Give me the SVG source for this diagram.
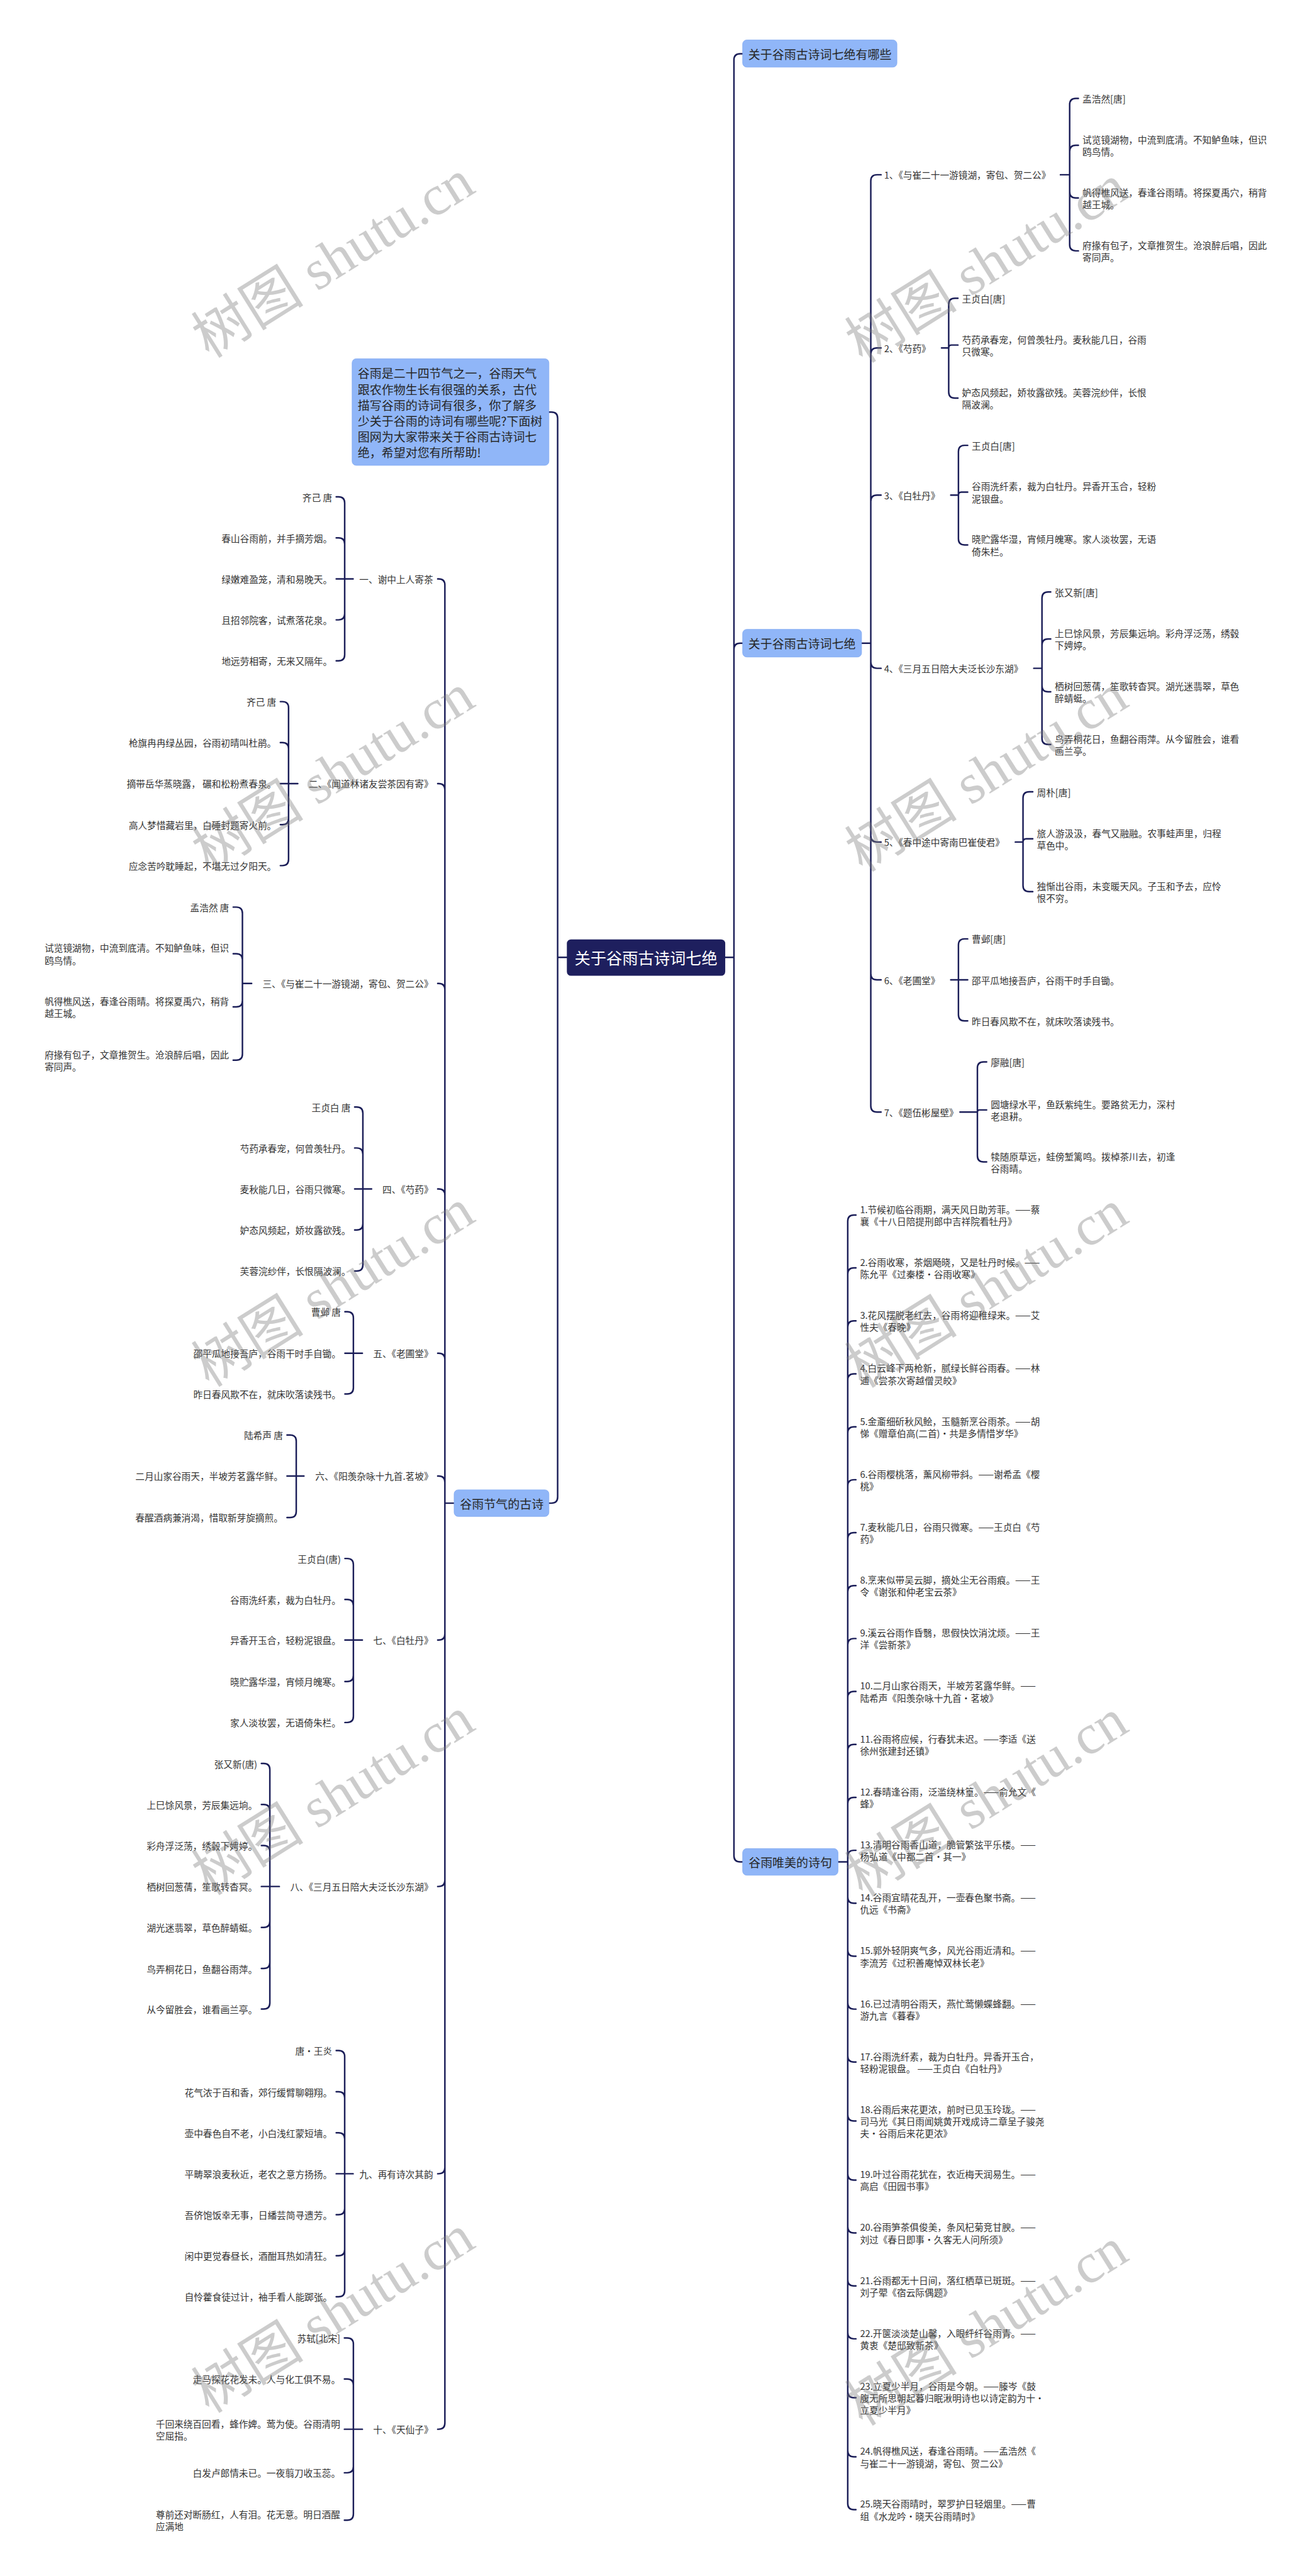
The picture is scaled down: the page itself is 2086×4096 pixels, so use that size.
<svg xmlns="http://www.w3.org/2000/svg" width="2086" height="4096" viewBox="0 0 2086 4096">
<style>
.ln{fill:none;stroke:#1b1e58;stroke-width:3;stroke-linecap:round;stroke-linejoin:round}
.t{font-family:"Noto Sans CJK SC","Noto Sans",sans-serif;font-size:18px;fill:#333;dominant-baseline:central}
.e{text-anchor:end}
.l1{font-size:23.3px;fill:#262626}
.box{fill:#90b6f8;stroke:#80a9f2;stroke-width:1}
.root{fill:#1e1f5e}
.rt{font-size:31px;fill:#fff;text-anchor:middle}
.wm{font-family:"Liberation Serif","Noto Sans CJK SC",serif;font-size:110px;fill:#7a7a7a;opacity:.38;text-anchor:middle;dominant-baseline:central}
</style>
<rect width="2086" height="4096" fill="#fff"/>
<g transform="scale(0.8149)">
<g id="connectors" class="ln">
<path d="M1415,1868H1432M1432,1868V117Q1432,105 1444,105H1449M1432,1868V1267Q1432,1255 1444,1255H1449M1432,1868V3621Q1432,3633 1444,3633H1449"/>
<path d="M1106,1868H1088M1088,1868V816Q1088,804 1076,804H1071M1088,1868V2921Q1088,2933 1076,2933H1071"/>
<path d="M1681,1255H1699M1699,1255V353Q1699,341 1711,341H1719M1699,1255V691Q1699,679 1711,679H1719M1699,1255V978Q1699,966 1711,966H1719M1699,1255V1292Q1699,1304 1711,1304H1719M1699,1255V1631Q1699,1643 1711,1643H1719M1699,1255V1900Q1699,1912 1711,1912H1719M1699,1255V2158Q1699,2170 1711,2170H1719"/>
<path d="M2069,341H2087M2087,341V204Q2087,192 2099,192H2104M2087,341V295.5Q2087,283.5 2099,283.5H2104M2087,341V374.25Q2087,386.25 2099,386.25H2104M2087,341V477.5Q2087,489.5 2099,489.5H2104"/>
<path d="M1837,679H1851M1851,679V594Q1851,582 1863,582H1869M1851,679Q1851,673.25 1856.75,673.25H1869M1851,679V764.75Q1851,776.75 1863,776.75H1869"/>
<path d="M1855,966H1870M1870,966V881Q1870,869 1882,869H1888M1870,966Q1870,960.25 1875.75,960.25H1888M1870,966V1051.25Q1870,1063.25 1882,1063.25H1888"/>
<path d="M2017,1304H2033M2033,1304V1167Q2033,1155 2045,1155H2050M2033,1304V1258.75Q2033,1246.75 2045,1246.75H2050M2033,1304V1337.75Q2033,1349.75 2045,1349.75H2050M2033,1304V1440.75Q2033,1452.75 2045,1452.75H2050"/>
<path d="M1981,1643H1996M1996,1643V1557Q1996,1545 2008,1545H2015M1996,1643Q1996,1636.75 2002.25,1636.75H2015M1996,1643V1727.75Q1996,1739.75 2008,1739.75H2015"/>
<path d="M1855,1912H1870M1870,1912V1844Q1870,1832 1882,1832H1888M1870,1912H1888M1870,1912V1980Q1870,1992 1882,1992H1888"/>
<path d="M1873,2170H1907M1907,2170V2084Q1907,2072 1919,2072H1925M1907,2170Q1907,2165.75 1911.25,2165.75H1925M1907,2170V2255.25Q1907,2267.25 1919,2267.25H1925"/>
<path d="M1635,3633H1654M1654,3633V2382.8Q1654,2370.8 1666,2370.8H1670M1654,3633V2486Q1654,2474 1666,2474H1670M1654,3633V2589.4Q1654,2577.4 1666,2577.4H1670M1654,3633V2692.7Q1654,2680.7 1666,2680.7H1670M1654,3633V2796Q1654,2784 1666,2784H1670M1654,3633V2899.3Q1654,2887.3 1666,2887.3H1670M1654,3633V3002.6Q1654,2990.6 1666,2990.6H1670M1654,3633V3105.9Q1654,3093.9 1666,3093.9H1670M1654,3633V3209.2Q1654,3197.2 1666,3197.2H1670M1654,3633V3312.5Q1654,3300.5 1666,3300.5H1670M1654,3633V3415.8Q1654,3403.8 1666,3403.8H1670M1654,3633V3519.1Q1654,3507.1 1666,3507.1H1670M1654,3633V3622.4Q1654,3610.4 1666,3610.4H1670M1654,3633V3701.7Q1654,3713.7 1666,3713.7H1670M1654,3633V3805Q1654,3817 1666,3817H1670M1654,3633V3908.3Q1654,3920.3 1666,3920.3H1670M1654,3633V4011.6Q1654,4023.6 1666,4023.6H1670M1654,3633V4126.6Q1654,4138.6 1666,4138.6H1670M1654,3633V4241.8Q1654,4253.8 1666,4253.8H1670M1654,3633V4345Q1654,4357 1666,4357H1670M1654,3633V4448.3Q1654,4460.3 1666,4460.3H1670M1654,3633V4551.6Q1654,4563.6 1666,4563.6H1670M1654,3633V4666.6Q1654,4678.6 1666,4678.6H1670M1654,3633V4781.8Q1654,4793.8 1666,4793.8H1670M1654,3633V4885Q1654,4897 1666,4897H1670"/>
<path d="M886,2933H868M868,2933V1141.5Q868,1129.5 856,1129.5H854M868,2933V1541Q868,1529 856,1529H854M868,2933V1931Q868,1919 856,1919H854M868,2933V2332Q868,2320 856,2320H854M868,2933V2652.5Q868,2640.5 856,2640.5H854M868,2933V2892Q868,2880 856,2880H854M868,2933V3188Q868,3200 856,3200H854M868,2933V3669Q868,3681 856,3681H854M868,2933V4229.5Q868,4241.5 856,4241.5H854M868,2933V4728Q868,4740 856,4740H854"/>
<path d="M689,1129.5H672.5M672.5,1129.5V981.5Q672.5,969.5 660.5,969.5H656M672.5,1129.5V1061.5Q672.5,1049.5 660.5,1049.5H656M672.5,1129.5H656M672.5,1129.5V1197.5Q672.5,1209.5 660.5,1209.5H656M672.5,1129.5V1277.5Q672.5,1289.5 660.5,1289.5H656"/>
<path d="M581,1529H563M563,1529V1381Q563,1369 551,1369H547M563,1529V1461Q563,1449 551,1449H547M563,1529H547M563,1529V1597Q563,1609 551,1609H547M563,1529V1677Q563,1689 551,1689H547"/>
<path d="M491,1919H473M473,1919V1782Q473,1770 461,1770H455M473,1919V1873Q473,1861 461,1861H455M473,1919V1952.75Q473,1964.75 461,1964.75H455M473,1919V2056.75Q473,2068.75 461,2068.75H455"/>
<path d="M725,2320H708M708,2320V2172Q708,2160 696,2160H692M708,2320V2252Q708,2240 696,2240H692M708,2320H692M708,2320V2388Q708,2400 696,2400H692M708,2320V2468Q708,2480 696,2480H692"/>
<path d="M707,2640.5H689.5M689.5,2640.5V2571.5Q689.5,2559.5 677.5,2559.5H673M689.5,2640.5H673M689.5,2640.5V2708Q689.5,2720 677.5,2720H673"/>
<path d="M593,2880H578M578,2880V2812Q578,2800 566,2800H560M578,2880H560M578,2880V2949Q578,2961 566,2961H560"/>
<path d="M707,3200H689.5M689.5,3200V3053Q689.5,3041 677.5,3041H673M689.5,3200V3133Q689.5,3121 677.5,3121H673M689.5,3200H673M689.5,3200V3269Q689.5,3281 677.5,3281H673M689.5,3200V3349Q689.5,3361 677.5,3361H673"/>
<path d="M545,3681H526.5M526.5,3681V3453Q526.5,3441 514.5,3441H510M526.5,3681V3533Q526.5,3521 514.5,3521H510M526.5,3681V3613Q526.5,3601 514.5,3601H510M526.5,3681H510M526.5,3681V3749Q526.5,3761 514.5,3761H510M526.5,3681V3829Q526.5,3841 514.5,3841H510M526.5,3681V3908Q526.5,3920 514.5,3920H510"/>
<path d="M689,4241.5H672.5M672.5,4241.5V4013Q672.5,4001 660.5,4001H656M672.5,4241.5V4093.5Q672.5,4081.5 660.5,4081.5H656M672.5,4241.5V4173.5Q672.5,4161.5 660.5,4161.5H656M672.5,4241.5H656M672.5,4241.5V4309.5Q672.5,4321.5 660.5,4321.5H656M672.5,4241.5V4389.5Q672.5,4401.5 660.5,4401.5H656M672.5,4241.5V4469.5Q672.5,4481.5 660.5,4481.5H656"/>
<path d="M707,4740H689.5M689.5,4740V4574Q689.5,4562 677.5,4562H672M689.5,4740V4654Q689.5,4642 677.5,4642H672M689.5,4740H672M689.5,4740V4813Q689.5,4825 677.5,4825H672M689.5,4740V4905.5Q689.5,4917.5 677.5,4917.5H672"/>
</g>

<g id="root"><rect class="root" x="1106" y="1833" width="309" height="71" rx="8"/><text class="t rt" x="1260.5" y="1868">关于谷雨古诗词七绝</text></g>

<g id="n-intro"><rect class="box" x="687" y="700" width="384" height="208" rx="8"/>
<text class="t l1" x="698" y="727.5">谷雨是二十四节气之一，谷雨天气</text>
<text class="t l1" x="698" y="758.4">跟农作物生长有很强的关系，古代</text>
<text class="t l1" x="698" y="789.3">描写谷雨的诗词有很多，你了解多</text>
<text class="t l1" x="698" y="820.2">少关于谷雨的诗词有哪些呢?下面树</text>
<text class="t l1" x="698" y="851.1">图网为大家带来关于谷雨古诗词七</text>
<text class="t l1" x="698" y="882">绝，希望对您有所帮助!</text></g>

<g id="n-a"><rect class="box" x="1449" y="78" width="301" height="53" rx="8"/><text class="t l1" x="1460" y="105">关于谷雨古诗词七绝有哪些</text></g>
<g id="n-b"><rect class="box" x="1449" y="1228" width="232" height="54" rx="8"/><text class="t l1" x="1460" y="1255">关于谷雨古诗词七绝</text></g>
<g id="n-c"><rect class="box" x="1449" y="3607" width="186" height="52" rx="8"/><text class="t l1" x="1460.5" y="3633">谷雨唯美的诗句</text></g>
<g id="n-d"><rect class="box" x="886" y="2907" width="185" height="52" rx="8"/><text class="t l1" x="897.5" y="2933">谷雨节气的古诗</text></g>

<g id="b1"><text class="t" x="1725" y="341">1、《与崔二十一游镜湖，寄包、贺二公》</text>
<text class="t" x="2112" y="192">孟浩然[唐]</text>
<text class="t" x="2112" y="271.75">试览镜湖物，中流到底清。不知鲈鱼味，但识</text><text class="t" x="2112" y="295.25">鸥鸟情。</text>
<text class="t" x="2112" y="374.5">帆得樵风送，春逢谷雨晴。将探夏禹穴，稍背</text><text class="t" x="2112" y="398">越王城。</text>
<text class="t" x="2112" y="477.75">府掾有包子，文章推贺生。沧浪醉后唱，因此</text><text class="t" x="2112" y="501.25">寄同声。</text></g>
<g id="b2"><text class="t" x="1725" y="679">2、《芍药》</text>
<text class="t" x="1877" y="582">王贞白[唐]</text>
<text class="t" x="1877" y="661.5">芍药承春宠，何曾羡牡丹。麦秋能几日，谷雨</text><text class="t" x="1877" y="685">只微寒。</text>
<text class="t" x="1877" y="765">妒态风频起，娇妆露欲残。芙蓉浣纱伴，长恨</text><text class="t" x="1877" y="788.5">隔波澜。</text></g>
<g id="b3"><text class="t" x="1725" y="966">3、《白牡丹》</text>
<text class="t" x="1896" y="869">王贞白[唐]</text>
<text class="t" x="1896" y="948.5">谷雨洗纤素，裁为白牡丹。异香开玉合，轻粉</text><text class="t" x="1896" y="972">泥银盘。</text>
<text class="t" x="1896" y="1051.5">晓贮露华湿，宵倾月魄寒。家人淡妆罢，无语</text><text class="t" x="1896" y="1075">倚朱栏。</text></g>
<g id="b4"><text class="t" x="1725" y="1304">4、《三月五日陪大夫泛长沙东湖》</text>
<text class="t" x="2058" y="1155">张又新[唐]</text>
<text class="t" x="2058" y="1235">上巳馀风景，芳辰集远垧。彩舟浮泛荡，绣毂</text><text class="t" x="2058" y="1258.5">下娉婷。</text>
<text class="t" x="2058" y="1338">栖树回葱蒨，笙歌转杳冥。湖光迷翡翠，草色</text><text class="t" x="2058" y="1361.5">醉蜻蜓。</text>
<text class="t" x="2058" y="1441">鸟弄桐花日，鱼翻谷雨萍。从今留胜会，谁看</text><text class="t" x="2058" y="1464.5">画兰亭。</text></g>
<g id="b5"><text class="t" x="1725" y="1643">5、《春中途中寄南巴崔使君》</text>
<text class="t" x="2023" y="1545">周朴[唐]</text>
<text class="t" x="2023" y="1625">旅人游汲汲，春气又融融。农事蛙声里，归程</text><text class="t" x="2023" y="1648.5">草色中。</text>
<text class="t" x="2023" y="1728">独惭出谷雨，未变暖天风。子玉和予去，应怜</text><text class="t" x="2023" y="1751.5">恨不穷。</text></g>
<g id="b6"><text class="t" x="1725" y="1912">6、《老圃堂》</text>
<text class="t" x="1896" y="1832">曹邺[唐]</text>
<text class="t" x="1896" y="1912">邵平瓜地接吾庐，谷雨干时手自锄。</text>
<text class="t" x="1896" y="1992">昨日春风欺不在，就床吹落读残书。</text></g>
<g id="b7"><text class="t" x="1725" y="2170">7、《题伍彬屋壁》</text>
<text class="t" x="1933" y="2072">廖融[唐]</text>
<text class="t" x="1933" y="2154">圆塘绿水平，鱼跃紫纯生。要路贫无力，深村</text><text class="t" x="1933" y="2177.5">老退耕。</text>
<text class="t" x="1933" y="2255.5">犊随原草远，蛙傍堑篱鸣。拨棹茶川去，初逢</text><text class="t" x="1933" y="2279">谷雨晴。</text></g>

<g id="c-items">
<g id="c1"><text class="t" x="1678" y="2359">1.节候初临谷雨期，满天风日助芳菲。——蔡</text><text class="t" x="1678" y="2382.5">襄《十八日陪提刑郎中吉祥院看牡丹》</text></g>
<g id="c2"><text class="t" x="1678" y="2462.3">2.谷雨收寒，茶烟飏晓，又是牡丹时候。——</text><text class="t" x="1678" y="2485.8">陈允平《过秦楼·谷雨收寒》</text></g>
<g id="c3"><text class="t" x="1678" y="2565.6">3.花风摆脱老红去，谷雨将迎稚绿来。——艾</text><text class="t" x="1678" y="2589.1">性夫《春晚》</text></g>
<g id="c4"><text class="t" x="1678" y="2668.9">4.白云峰下两枪新，腻绿长鲜谷雨春。——林</text><text class="t" x="1678" y="2692.4">逋《尝茶次寄越僧灵皎》</text></g>
<g id="c5"><text class="t" x="1678" y="2772.2">5.金齑细斫秋风鲙，玉髓新烹谷雨茶。——胡</text><text class="t" x="1678" y="2795.7">悌《赠章伯高(二首)·共是多情惜岁华》</text></g>
<g id="c6"><text class="t" x="1678" y="2875.5">6.谷雨樱桃落，薰风柳带斜。——谢希孟《樱</text><text class="t" x="1678" y="2899">桃》</text></g>
<g id="c7"><text class="t" x="1678" y="2978.8">7.麦秋能几日，谷雨只微寒。——王贞白《芍</text><text class="t" x="1678" y="3002.3">药》</text></g>
<g id="c8"><text class="t" x="1678" y="3082.1">8.烹来似带吴云脚，摘处尘无谷雨痕。——王</text><text class="t" x="1678" y="3105.6">令《谢张和仲老宝云茶》</text></g>
<g id="c9"><text class="t" x="1678" y="3185.4">9.溪云谷雨作昏翳，思假快饮消沈烦。——王</text><text class="t" x="1678" y="3208.9">洋《尝新茶》</text></g>
<g id="c10"><text class="t" x="1678" y="3288.7">10.二月山家谷雨天，半坡芳茗露华鲜。——</text><text class="t" x="1678" y="3312.2">陆希声《阳羡杂咏十九首·茗坡》</text></g>
<g id="c11"><text class="t" x="1678" y="3392">11.谷雨将应候，行春犹未迟。——李适《送</text><text class="t" x="1678" y="3415.5">徐州张建封还镇》</text></g>
<g id="c12"><text class="t" x="1678" y="3495.3">12.春晴逢谷雨，泛滥绕林篁。——俞允文《</text><text class="t" x="1678" y="3518.8">蜂》</text></g>
<g id="c13"><text class="t" x="1678" y="3598.6">13.清明谷雨香山道，脆管繁弦平乐楼。——</text><text class="t" x="1678" y="3622.1">杨弘道《中都二首·其一》</text></g>
<g id="c14"><text class="t" x="1678" y="3701.9">14.谷雨宜晴花乱开，一壶春色聚书斋。——</text><text class="t" x="1678" y="3725.4">仇远《书斋》</text></g>
<g id="c15"><text class="t" x="1678" y="3805.2">15.郭外轻阴爽气多，风光谷雨近清和。——</text><text class="t" x="1678" y="3828.7">李流芳《过积善庵悼双林长老》</text></g>
<g id="c16"><text class="t" x="1678" y="3908.5">16.已过清明谷雨天，燕忙莺懒蝶蜂翻。——</text><text class="t" x="1678" y="3932">游九言《暮春》</text></g>
<g id="c17"><text class="t" x="1678" y="4011.8">17.谷雨洗纤素，裁为白牡丹。异香开玉合，</text><text class="t" x="1678" y="4035.3">轻粉泥银盘。 ——王贞白《白牡丹》</text></g>
<g id="c18"><text class="t" x="1678" y="4115.1">18.谷雨后来花更浓，前时已见玉玲珑。——</text><text class="t" x="1678" y="4138.6">司马光《其日雨闻姚黄开戏成诗二章呈子骏尧</text><text class="t" x="1678" y="4162.1">夫·谷雨后来花更浓》</text></g>
<g id="c19"><text class="t" x="1678" y="4242">19.叶过谷雨花犹在，衣近梅天润易生。——</text><text class="t" x="1678" y="4265.5">高启《田园书事》</text></g>
<g id="c20"><text class="t" x="1678" y="4345.2">20.谷雨笋茶俱俊美，条风杞菊竞甘腴。——</text><text class="t" x="1678" y="4368.7">刘过《春日即事·久客无人问所须》</text></g>
<g id="c21"><text class="t" x="1678" y="4448.5">21.谷雨都无十日间，落红栖草已斑斑。——</text><text class="t" x="1678" y="4472">刘子翚《宿云际偶题》</text></g>
<g id="c22"><text class="t" x="1678" y="4551.8">22.开箧淡淡楚山馨，入眼纤纤谷雨青。——</text><text class="t" x="1678" y="4575.3">黄衷《楚邸致新茶》</text></g>
<g id="c23"><text class="t" x="1678" y="4655.1">23.立夏少半月，谷雨是今朝。——滕岑《鼓</text><text class="t" x="1678" y="4678.6">腹无所思朝起暮归眠湫明诗也以诗定韵为十·</text><text class="t" x="1678" y="4702.1">立夏少半月》</text></g>
<g id="c24"><text class="t" x="1678" y="4782">24.帆得樵风送，春逢谷雨晴。——孟浩然《</text><text class="t" x="1678" y="4805.5">与崔二十一游镜湖，寄包、贺二公》</text></g>
<g id="c25"><text class="t" x="1678" y="4885.2">25.晓天谷雨晴时，翠罗护日轻烟里。——曹</text><text class="t" x="1678" y="4908.7">组《水龙吟·晓天谷雨晴时》</text></g>
</g>

<g id="d1"><text class="t e" x="845" y="1129.5">一、谢中上人寄茶</text>
<text class="t e" x="648" y="969.5">齐己 唐</text>
<text class="t e" x="648" y="1049.5">春山谷雨前，并手摘芳烟。</text>
<text class="t e" x="648" y="1129.5">绿嫩难盈笼，清和易晚天。</text>
<text class="t e" x="648" y="1209.5">且招邻院客，试煮落花泉。</text>
<text class="t e" x="648" y="1289.5">地远劳相寄，无来又隔年。</text></g>
<g id="d2"><text class="t e" x="845" y="1529">二、《闻道林诸友尝茶因有寄》</text>
<text class="t e" x="539" y="1369">齐己 唐</text>
<text class="t e" x="539" y="1449">枪旗冉冉绿丛园，谷雨初晴叫杜鹃。</text>
<text class="t e" x="539" y="1529">摘带岳华蒸晓露， 碾和松粉煮春泉。</text>
<text class="t e" x="539" y="1609">高人梦惜藏岩里，白硾封题寄火前。</text>
<text class="t e" x="539" y="1689">应念苦吟耽睡起，不堪无过夕阳天。</text></g>
<g id="d3"><text class="t e" x="845" y="1919">三、《与崔二十一游镜湖，寄包、贺二公》</text>
<text class="t e" x="447" y="1770">孟浩然 唐</text>
<text class="t" x="87" y="1849.25">试览镜湖物，中流到底清。不知鲈鱼味，但识</text><text class="t" x="87" y="1872.75">鸥鸟情。</text>
<text class="t" x="87" y="1953">帆得樵风送，春逢谷雨晴。将探夏禹穴，稍背</text><text class="t" x="87" y="1976.5">越王城。</text>
<text class="t" x="87" y="2057">府掾有包子，文章推贺生。沧浪醉后唱，因此</text><text class="t" x="87" y="2080.5">寄同声。</text></g>
<g id="d4"><text class="t e" x="845" y="2320">四、《芍药》</text>
<text class="t e" x="684" y="2160">王贞白 唐</text>
<text class="t e" x="684" y="2240">芍药承春宠，何曾羡牡丹。</text>
<text class="t e" x="684" y="2320">麦秋能几日，谷雨只微寒。</text>
<text class="t e" x="684" y="2400">妒态风频起，娇妆露欲残。</text>
<text class="t e" x="684" y="2480">芙蓉浣纱伴，长恨隔波澜。</text></g>
<g id="d5"><text class="t e" x="845" y="2640.5">五、《老圃堂》</text>
<text class="t e" x="665" y="2559.5">曹邺 唐</text>
<text class="t e" x="665" y="2640.5">邵平瓜地接吾庐，谷雨干时手自锄。</text>
<text class="t e" x="665" y="2720">昨日春风欺不在，就床吹落读残书。</text></g>
<g id="d6"><text class="t e" x="845" y="2880">六、《阳羡杂咏十九首.茗坡》</text>
<text class="t e" x="552" y="2800">陆希声 唐</text>
<text class="t e" x="552" y="2880">二月山家谷雨天，半坡芳茗露华鲜。</text>
<text class="t e" x="552" y="2961">春醒酒病兼消渴，惜取新芽旋摘煎。</text></g>
<g id="d7"><text class="t e" x="845" y="3200">七、《白牡丹》</text>
<text class="t e" x="665" y="3041">王贞白(唐)</text>
<text class="t e" x="665" y="3121">谷雨洗纤素，裁为白牡丹。</text>
<text class="t e" x="665" y="3200">异香开玉合，轻粉泥银盘。</text>
<text class="t e" x="665" y="3281">晓贮露华湿，宵倾月魄寒。</text>
<text class="t e" x="665" y="3361">家人淡妆罢，无语倚朱栏。</text></g>
<g id="d8"><text class="t e" x="845" y="3681">八、《三月五日陪大夫泛长沙东湖》</text>
<text class="t e" x="502" y="3441">张又新(唐)</text>
<text class="t e" x="502" y="3521">上巳馀风景，芳辰集远垧。</text>
<text class="t e" x="502" y="3601">彩舟浮泛荡，绣毂下娉婷。</text>
<text class="t e" x="502" y="3681">栖树回葱蒨，笙歌转杳冥。</text>
<text class="t e" x="502" y="3761">湖光迷翡翠，草色醉蜻蜓。</text>
<text class="t e" x="502" y="3841">鸟弄桐花日，鱼翻谷雨萍。</text>
<text class="t e" x="502" y="3920">从今留胜会，谁看画兰亭。</text></g>
<g id="d9"><text class="t e" x="845" y="4241.5">九、再有诗次其韵</text>
<text class="t e" x="648" y="4001">唐·王炎</text>
<text class="t e" x="648" y="4081.5">花气浓于百和香，郊行缓臂聊翱翔。</text>
<text class="t e" x="648" y="4161.5">壶中春色自不老，小白浅红蒙短墙。</text>
<text class="t e" x="648" y="4241.5">平畴翠浪麦秋近，老农之意方扬扬。</text>
<text class="t e" x="648" y="4321.5">吾侪饱饭幸无事，日繙芸简寻遗芳。</text>
<text class="t e" x="648" y="4401.5">闲中更觉春昼长，酒酣耳热如清狂。</text>
<text class="t e" x="648" y="4481.5">自怜藿食徒过计，袖手看人能踯张。</text></g>
<g id="d10"><text class="t e" x="845" y="4740">十、《天仙子》</text>
<text class="t e" x="664" y="4562">苏轼[北宋]</text>
<text class="t e" x="664" y="4642">走马探花花发未。人与化工俱不易。</text>
<text class="t" x="304" y="4728.25">千回来绕百回看，蜂作婢。莺为使。谷雨清明</text><text class="t" x="304" y="4751.75">空屈指。</text>
<text class="t e" x="664" y="4825">白发卢郎情未已。一夜翦刀收玉蕊。</text>
<text class="t" x="304" y="4905.75">尊前还对断肠红，人有泪。花无意。明日酒醒</text><text class="t" x="304" y="4929.25">应满地</text></g>

<g id="watermark">
<text class="wm" transform="translate(650,505) rotate(-32)">树图 shutu.cn</text>
<text class="wm" transform="translate(1925,515) rotate(-32)">树图 shutu.cn</text>
<text class="wm" transform="translate(650,1508) rotate(-32)">树图 shutu.cn</text>
<text class="wm" transform="translate(1925,1508) rotate(-32)">树图 shutu.cn</text>
<text class="wm" transform="translate(650,2513) rotate(-32)">树图 shutu.cn</text>
<text class="wm" transform="translate(1925,2515) rotate(-32)">树图 shutu.cn</text>
<text class="wm" transform="translate(650,3505) rotate(-32)">树图 shutu.cn</text>
<text class="wm" transform="translate(1925,3508) rotate(-32)">树图 shutu.cn</text>
<text class="wm" transform="translate(650,4515) rotate(-32)">树图 shutu.cn</text>
<text class="wm" transform="translate(1925,4540) rotate(-32)">树图 shutu.cn</text>
</g>
</g>
</svg>
